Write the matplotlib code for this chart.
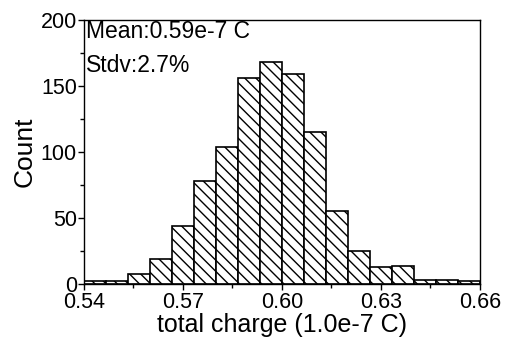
import numpy as np
import matplotlib.pyplot as plt
from matplotlib.ticker import MultipleLocator

plt.rcParams['font.family'] = ['Liberation Sans', 'DejaVu Sans']
plt.rcParams['hatch.linewidth'] = 1.0

# histogram counts per bin (18 bins between 0.54 and 0.66)
counts = [2, 2, 8, 19, 44, 78, 104, 156, 168, 159, 115, 55, 25, 13, 14, 3, 3, 2]
x_min, x_max = 0.54, 0.66
x_ticks = [0.54, 0.57, 0.60, 0.63, 0.66]
y_ticks = [0, 50, 100, 150, 200]

edges = np.linspace(x_min, x_max, len(counts) + 1)

fig = plt.figure(figsize=(5.05, 3.46), dpi=100)
ax = fig.add_axes([0.166, 0.179, 0.784, 0.763])
ax.bar(edges[:-1], counts, width=np.diff(edges), align='edge',
       color='white', edgecolor='black', linewidth=1.2, hatch='\\\\\\')

ax.set_xlim(x_min, x_max)
ax.set_ylim(0, 200)
ax.set_xticks(x_ticks)
ax.set_xticklabels(['%.2f' % v for v in x_ticks])
ax.set_yticks(y_ticks)
ax.xaxis.set_minor_locator(MultipleLocator(0.015))
ax.yaxis.set_minor_locator(MultipleLocator(25))
ax.tick_params(labelsize=15.5, width=1, length=4.5, pad=0.5)
ax.tick_params(axis='x', pad=1.5)
ax.tick_params(which='minor', length=3, width=1)
for s in ax.spines.values():
    s.set_linewidth(1.0)

ax.set_xlabel('total charge (1.0e-7 C)', fontsize=18, labelpad=0)
ax.set_ylabel('Count', fontsize=19, labelpad=3)

ax.text(0.005, 1.0, 'Mean:0.59e-7 C', transform=ax.transAxes,
        ha='left', va='top', fontsize=16.5)
ax.text(0.005, 0.87, 'Stdv:2.7%', transform=ax.transAxes,
        ha='left', va='top', fontsize=16.5)

fig.savefig('out.png', dpi=100)
